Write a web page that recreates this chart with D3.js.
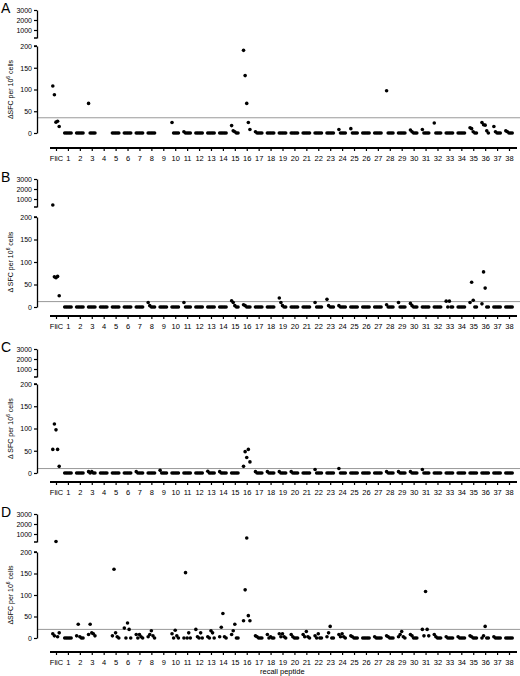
<!DOCTYPE html>
<html><head><meta charset="utf-8">
<script src="https://cdn.jsdelivr.net/npm/d3@7"></script>
<style>body{margin:0;background:#fff}text{font-family:Arial,"Liberation Sans",sans-serif}</style>
</head><body><svg id="c" width="520" height="676"></svg>
<script>
const categories = ["FliC"].concat(d3.range(1,39).map(String));
const upperTicks = [1000,2000,3000];
const lowerTicks = [0,50,100,150,200];
const panelLabels = ["A","B","C","D"];
const thresholds = [35,12,10,20];
const Z5=[0,0,0,0,0];
function fill(obj){return categories.map((c,i)=> obj[c]!==undefined?obj[c]:Z5);}
const panelA = fill({"FliC":[108,88,25,27,15],"3":[68,0,0,0,0],"4":[],"9":[],"10":[24,0,0,0,0],"11":[3,0,0,0,0],
 "15":[17,5,3,0,0],"16":[190,132,68,24,8],"17":[3,0,0,0,0],"24":[8,0,0,0,0],"25":[10,0,0,0,0],"28":[97,0,0,0,0],
 "30":[7,3,0,0,0],"31":[8,0,0,0,0],"32":[23,0,0,0,0],"35":[12,10,3,0,0],"36":[24,19,18,5,0],"37":[15,3,0,0,0],"38":[5,3,0,0,0]});
const panelB = fill({"FliC":[400,67,65,68,25],"8":[10,3,0,0,0],"11":[10,0,0,0,0],"15":[14,10,3,0,0],"16":[5,3,0,0,0],
 "19":[20,10,3,0,0],"22":[10,0,0,0,0],"23":[17,3,0,0,0],"24":[3,0,0,0,0],"28":[5,0,0,0,0],"29":[10,0,0,0,0],
 "30":[8,3,0,0,0],"33":[13,0,13,0,0],"35":[10,55,15,0,0],"36":[7,78,42,0,0]});
const panelC = fill({"FliC":[53,110,97,53,15],"3":[3,0,3,0,0],"7":[3,0,0,0,0],"9":[6,0,0,0,0],"13":[4,0,0,0,0],"14":[3,0,0,0,0],
 "16":[15,48,35,53,25],"17":[3,0,0,0,0],"18":[3,0,0,0,0],"19":[3,0,0,0,0],"20":[3,0,0,0,0],"22":[8,0,0,0,0],"24":[10,0,0,0,0],
 "28":[3,0,0,0,0],"29":[3,0,0,0,0],"30":[3,0,0,0,0],"31":[8,0,0,0,0]});
const panelD = fill({"FliC":[10,5,250,3,12],"2":[5,32,3,0,0],"3":[8,32,12,10,5],"4":[],"5":[5,160,12,3,0],"6":[23,0,35,20,0],
 "7":[8,0,8,3,0],"8":[3,8,17,5,0],"9":[],"10":[10,0,18,5,0],"11":[0,152,0,12,0],"12":[20,3,0,12,0],"13":[3,0,17,12,0],
 "14":[3,25,57,3,0],"15":[8,17,32,0,0],"16":[40,112,600,52,40],"17":[5,3,0,0,0],"18":[8,0,3,0,0],"19":[10,3,10,3,0],
 "20":[8,3,0,0,0],"21":[8,3,15,3,0],"22":[5,0,10,0,0],"23":[3,12,27,0,0],"24":[8,3,10,3,0],"25":[5,3,0,0,0],
 "27":[3,0,0,0,0],"28":[5,3,0,0,0],"29":[3,8,15,3,0],"30":[8,5,0,0,0],"31":[20,5,108,20,5],"32":[8,3,0,0,0],
 "33":[3,0,0,0,0],"34":[3,0,0,0,0],"35":[5,3,0,0,0],"36":[0,5,27,0,0],"37":[3,0,0,0,0]});
const panels=[panelA,panelB,panelC,panelD];
const geo=[[10,38,46,133,148],[179,207,217,307,316],[349,377,384,473,482],[514,542,552,638,652]];
const svg=d3.select("#c");
const x=d3.scalePoint().domain(categories).range([56,509]);
panels.forEach((data,p)=>{
  const [t3,u2,l2,l0,ax]=geo[p];
  const yU=d3.scaleLinear().domain([200,3000]).range([u2,t3]);
  const yL=d3.scaleLinear().domain([0,200]).range([l0,l2]);
  const y=v=>v>200?yU(v):yL(v);
  const g=svg.append("g");
  g.append("text").attr("x",1).attr("y",t3+3).attr("font-size",14).text(panelLabels[p]);
  g.append("line").attr("x1",37).attr("x2",520).attr("y1",yL(thresholds[p])).attr("y2",yL(thresholds[p])).attr("stroke","#999").attr("stroke-width",1);
  const aU=g.append("g").attr("transform","translate(37,0)").call(d3.axisLeft(yU).tickValues(upperTicks).tickFormat(d3.format("d")).tickSize(3).tickSizeOuter(0));
  const aL=g.append("g").attr("transform","translate(37,0)").call(d3.axisLeft(yL).tickValues(lowerTicks).tickFormat(d3.format("d")).tickSize(3).tickSizeOuter(0));
  [aU,aL].forEach(a=>{a.selectAll("text").attr("font-size",7).attr("fill","#000").attr("dx",1);
    a.select(".domain").attr("stroke-width",1.3);a.selectAll(".tick line").attr("stroke-width",1.2);});
  g.append("line").attr("x1",34).attr("x2",37).attr("y1",u2).attr("y2",u2).attr("stroke","#000").attr("stroke-width",1.5);
  g.append("line").attr("x1",34).attr("x2",37).attr("y1",l2).attr("y2",l2).attr("stroke","#000").attr("stroke-width",1.5);
  const yt=g.append("text").attr("transform",`translate(13,${(l0+l2)/2}) rotate(-90)`).attr("text-anchor","middle").attr("font-size",7);
  yt.append("tspan").text(p===1||p===2?"Δ SFC per 10":"ΔSFC per 10");
  yt.append("tspan").attr("font-size",5).attr("dy",-3).text("6");
  yt.append("tspan").attr("dy",3).text(" cells");
  const xa=g.append("g").attr("transform",`translate(0,${ax})`).call(d3.axisBottom(x).tickSize(3).tickSizeOuter(0));
  xa.select(".domain").attr("d","M50,0H517").attr("stroke-width",2);
  xa.selectAll(".tick line").attr("stroke-width",1.2);
  xa.selectAll("text").attr("font-size",7.5).attr("fill","#000").attr("dy","0.9em");
  data.forEach((vals,ci)=>{
    const n=vals.length;
    vals.forEach((v,i)=>{
      g.append("circle").attr("cx",x(categories[ci])+(i-(n-1)/2)*1.6).attr("cy",y(v)).attr("r",1.8).attr("fill","#000");
    });
  });
});
svg.append("text").attr("x",260).attr("y",674).attr("font-size",7.5).text("recall peptide");
</script></body></html>
